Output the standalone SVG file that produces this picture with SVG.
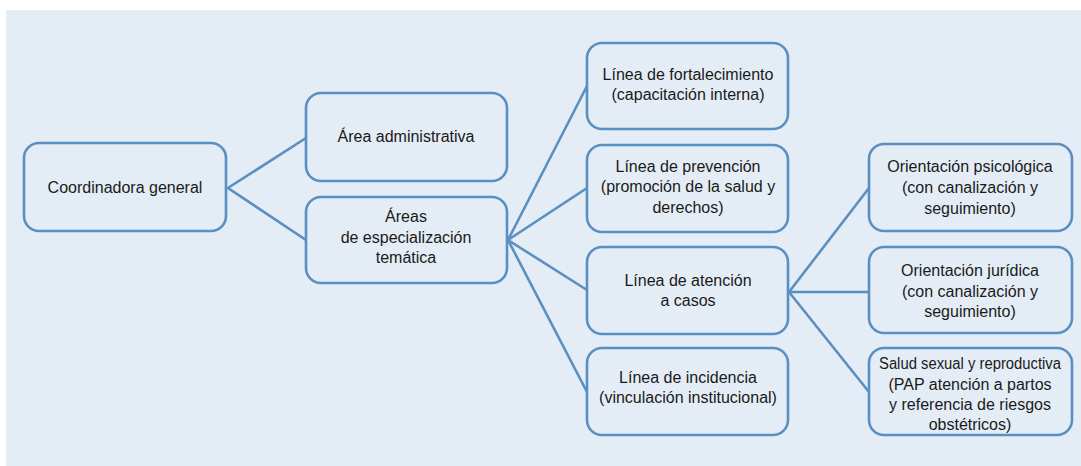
<svg xmlns="http://www.w3.org/2000/svg" width="1081" height="466" viewBox="0 0 1081 466">
<style>
.box{fill:#e4edf5;stroke:#5a8fc2;stroke-width:2.6}
.t{font-family:"Liberation Sans","Open Sans",sans-serif;font-size:16px;fill:#1a1a1a;text-anchor:middle}
.c{stroke:#5a8fc2;stroke-width:2.6;fill:none}
</style>
<rect x="6" y="10" width="1075" height="456" fill="#e4edf5"/>
<g id="connectors">
<polyline class="c" points="306,138 228,188 306,240"/>
<line class="c" x1="508" y1="240" x2="587" y2="86"/>
<line class="c" x1="508" y1="240" x2="587" y2="188"/>
<line class="c" x1="508" y1="240" x2="587" y2="290"/>
<line class="c" x1="508" y1="240" x2="587" y2="392"/>
<line class="c" x1="789" y1="292" x2="869" y2="188"/>
<line class="c" x1="789" y1="292" x2="869" y2="292"/>
<line class="c" x1="789" y1="292" x2="869" y2="392"/>
</g>
<g id="coordinadora">
<rect class="box" x="24" y="143" width="202" height="88" rx="15"/>
<text class="t" x="125" y="193">Coordinadora general</text>
</g>
<g id="area-administrativa">
<rect class="box" x="306" y="93" width="201" height="88" rx="15"/>
<text class="t" x="406" y="142">Área administrativa</text>
</g>
<g id="areas-especializacion">
<rect class="box" x="306" y="197" width="201" height="86" rx="15"/>
<text class="t" x="406" y="222">Áreas</text>
<text class="t" x="406" y="243">de especialización</text>
<text class="t" x="406" y="263">temática</text>
</g>
<g id="linea-fortalecimiento">
<rect class="box" x="587" y="43" width="201" height="86" rx="15"/>
<text class="t" x="688" y="80">Línea de fortalecimiento</text>
<text class="t" x="688" y="100">(capacitación interna)</text>
</g>
<g id="linea-prevencion">
<rect class="box" x="587" y="145" width="201" height="87" rx="15"/>
<text class="t" x="688" y="172">Línea de prevención</text>
<text class="t" x="688" y="192">(promoción de la salud y</text>
<text class="t" x="688" y="213">derechos)</text>
</g>
<g id="linea-atencion">
<rect class="box" x="587" y="247" width="201" height="87" rx="15"/>
<text class="t" x="688" y="286">Línea de atención</text>
<text class="t" x="688" y="306">a casos</text>
</g>
<g id="linea-incidencia">
<rect class="box" x="587" y="348" width="201" height="87" rx="15"/>
<text class="t" x="688" y="383">Línea de incidencia</text>
<text class="t" x="688" y="403">(vinculación institucional)</text>
</g>
<g id="orientacion-psicologica">
<rect class="box" x="869" y="144" width="203" height="87" rx="15"/>
<text class="t" x="970" y="172">Orientación psicológica</text>
<text class="t" x="970" y="193">(con canalización y</text>
<text class="t" x="970" y="214">seguimiento)</text>
</g>
<g id="orientacion-juridica">
<rect class="box" x="869" y="247" width="203" height="86" rx="15"/>
<text class="t" x="970" y="276">Orientación jurídica</text>
<text class="t" x="970" y="297">(con canalización y</text>
<text class="t" x="970" y="317">seguimiento)</text>
</g>
<g id="salud-sexual">
<rect class="box" x="869" y="348" width="203" height="87" rx="15"/>
<text class="t" x="970" y="369" textLength="182" lengthAdjust="spacingAndGlyphs">Salud sexual y reproductiva</text>
<text class="t" x="970" y="390">(PAP atención a partos</text>
<text class="t" x="970" y="410">y referencia de riesgos</text>
<text class="t" x="970" y="430">obstétricos)</text>
</g>
</svg>
